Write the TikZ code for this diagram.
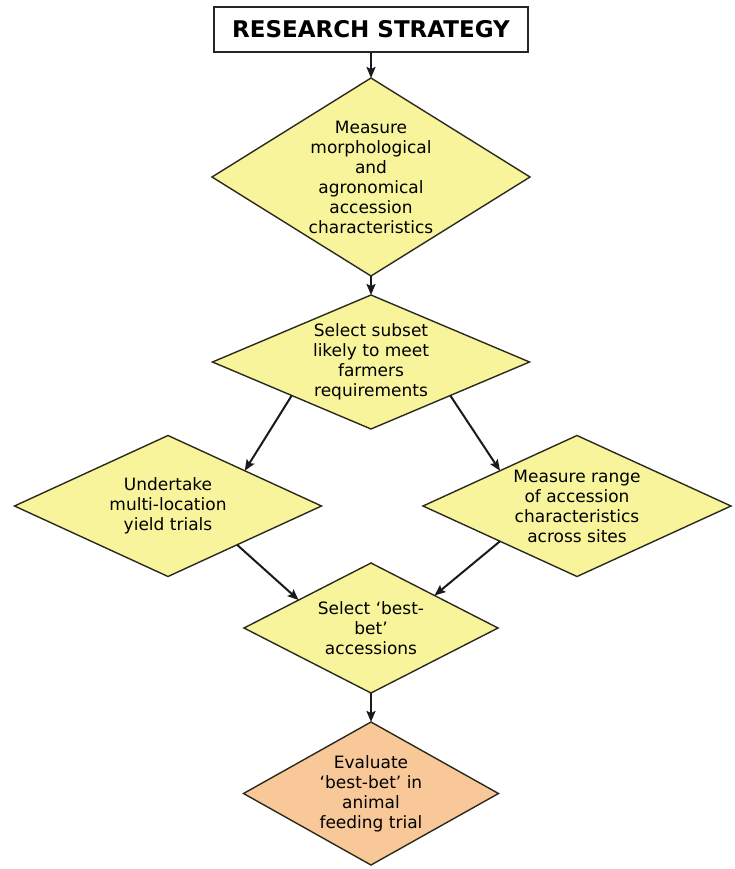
\documentclass[tikz,border=0pt]{standalone}
\usepackage{fontspec}
\setmainfont{DejaVu Sans}
\usetikzlibrary{shapes.geometric,arrows.meta,calc}

\definecolor{dyellow}{HTML}{F8F49C}
\definecolor{dorange}{HTML}{F9C899}
\definecolor{edgegray}{HTML}{2A2A1E}
\definecolor{arrowgray}{HTML}{1A1A1A}

\tikzset{
  titlebox/.style={draw=black!85, line width=2.2pt, fill=white, inner sep=0pt,
    minimum width=314pt, minimum height=45pt,
    font=\fontsize{23}{26}\selectfont\bfseries},
  decision/.style={diamond, draw=edgegray, line width=1.4pt, fill=dyellow,
    inner sep=0pt, outer sep=0pt},
  finalstep/.style={decision, fill=dorange},
  dtext/.style={align=center, inner sep=0pt, text=black,
    font=\fontsize{17}{20}\selectfont},
  flow/.style={draw=arrowgray, line width=2pt,
    -{Stealth[length=11pt,width=9pt,inset=2pt]}},
}

\begin{document}
\begin{tikzpicture}[x=1pt,y=-1pt]
\useasboundingbox (0,0) rectangle (735,869);

% title
\node[titlebox] (title) at (371,29.5) {RESEARCH STRATEGY};

% decision diamonds
\node[decision, minimum width=318pt, minimum height=198pt] (d1) at (371,177) {};
\node[decision, minimum width=317pt, minimum height=134pt] (d2) at (371,362) {};
\node[decision, minimum width=307pt, minimum height=141pt] (d3) at (168,506) {};
\node[decision, minimum width=308pt, minimum height=141pt] (d4) at (577,506) {};
\node[decision, minimum width=254pt, minimum height=130pt] (d5) at (371,628) {};
\node[finalstep, minimum width=255pt, minimum height=143pt] (d6) at (371,793.5) {};

% texts inside the diamonds
\node[dtext] (t1) at (d1) {Measure\\morphological\\and\\agronomical\\accession\\characteristics};
\node[dtext] (t2) at (d2) {Select subset\\likely to meet\\farmers\\requirements};
\node[dtext] (t3) at (d3) {Undertake\\multi-location\\yield trials};
\node[dtext] (t4) at (d4) {Measure range\\of accession\\characteristics\\across sites};
\node[dtext] (t5) at (d5) {Select ‘best-\\bet’\\accessions};
\node[dtext] (t6) at (d6) {Evaluate\\‘best-bet’ in\\animal\\feeding trial};

% connectors
\draw[flow] (title.south) -- (d1.north);
\draw[flow] (d1.south) -- (d2.north);
\draw[flow] (d2.south west) -- (d3.north east);
\draw[flow] (d2.south east) -- (d4.north west);
\draw[flow] ($(d3.south)!0.45!(d3.east)$) -- ($(d5.west)!0.43!(d5.north)$);
\draw[flow] (d4.south west) -- (d5.north east);
\draw[flow] (d5.south) -- (d6.north);
\end{tikzpicture}
\end{document}
